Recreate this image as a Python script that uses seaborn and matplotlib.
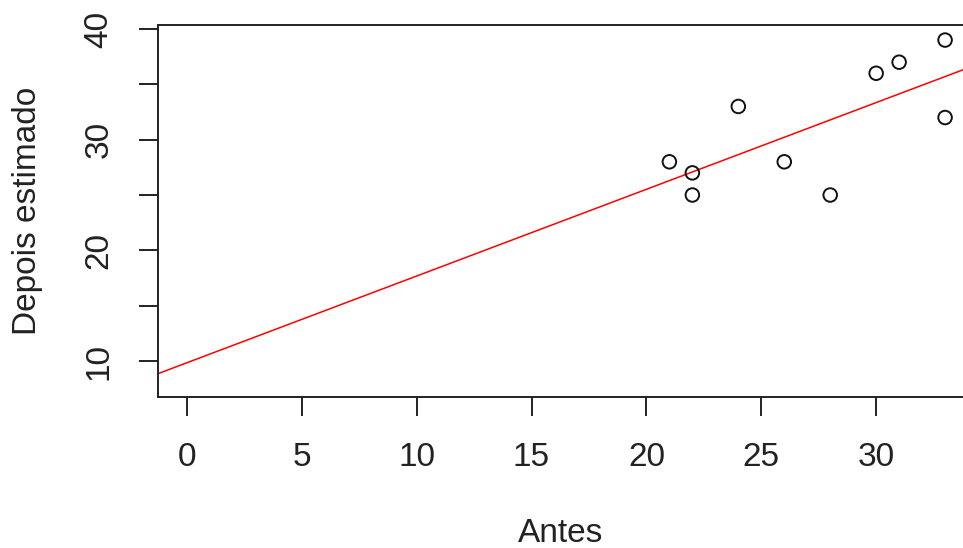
import numpy as np
import pandas as pd
import matplotlib
matplotlib.use("Agg")
import matplotlib.pyplot as plt
import seaborn as sns

# Observed pairs: before vs. estimated after
antes = [21, 22, 22, 24, 26, 28, 30, 31, 33, 33]
depois = [28, 27, 25, 33, 28, 25, 36, 37, 39, 32]

x_ticks = [0, 5, 10, 15, 20, 25, 30]
y_ticks = [10, 15, 20, 25, 30, 35, 40]
y_tick_labels = ["10", "", "20", "", "30", "", "40"]

df = pd.DataFrame({"Antes": antes, "Depois estimado": depois})

sns.set_theme(style="ticks")
plt.rcParams["font.family"] = ["Liberation Sans", "DejaVu Sans"]

fig = plt.figure(figsize=(9.63, 5.48), dpi=100)
ax = fig.add_axes([158 / 963, 1 - 397 / 548, 1 - 158 / 963, (397 - 25) / 548])

xlim = (-1.26, 33.78)
ylim = (6.75, 40.36)
ax.set_xlim(*xlim)
ax.set_ylim(*ylim)

sns.scatterplot(data=df, x="Antes", y="Depois estimado", ax=ax,
                marker="o", s=95, facecolor="none", edgecolor="#111111",
                linewidth=1.4, zorder=3)

# least-squares fit drawn across the whole visible x range
sns.regplot(data=df, x="Antes", y="Depois estimado", ax=ax, scatter=False,
            ci=None, truncate=False, color="red", line_kws={"linewidth": 1.1})

ax.set_xlim(*xlim)
ax.set_ylim(*ylim)

ax.set_xticks(x_ticks)
ax.set_xticklabels([str(t) for t in x_ticks])
ax.set_yticks(y_ticks)
ax.set_yticklabels(y_tick_labels, rotation=90, va="center")

for side in ["left", "bottom", "top"]:
    ax.spines[side].set_visible(True)
    ax.spines[side].set_color("#222222")
    ax.spines[side].set_linewidth(1.4)
ax.spines["right"].set_visible(False)

ax.tick_params(axis="both", direction="out", length=13.5, width=1.4,
               color="#222222", labelsize=24, labelcolor="#222222")
ax.tick_params(axis="x", pad=19)
ax.tick_params(axis="y", pad=18)

ax.set_xlabel("Antes", fontsize=24, color="#222222")
ax.set_ylabel("Depois estimado", fontsize=24, color="#222222")
ax.xaxis.set_label_coords(0.5, (397 - 533) / 372)
ax.xaxis.label.set_va("center")
ax.yaxis.set_label_coords((28 - 158) / 805, 0.5)
ax.yaxis.label.set_va("center")

fig.savefig("out.png", dpi=100)
